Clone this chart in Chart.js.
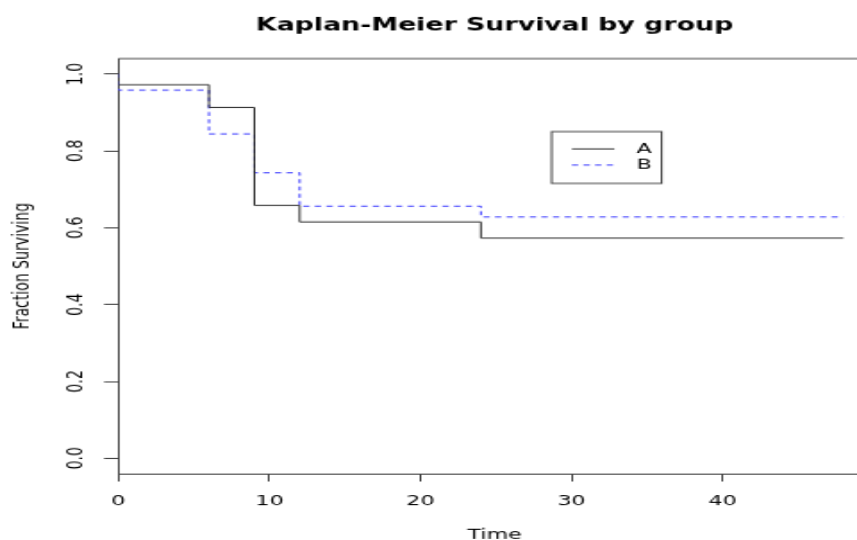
<!DOCTYPE html>
<html>
<head>
<meta charset="utf-8">
<script src="https://cdn.jsdelivr.net/npm/chart.js@4.4.0/dist/chart.umd.min.js"></script>
<style>
  html, body { margin: 0; padding: 0; background: #fff; }
  body { width: 857px; height: 540px; }
  /* drawn at 480x480 like an R png, then stretched to 857x540 */
  #wrap { width: 480px; height: 480px; transform: scale(1.7854, 1.125); transform-origin: 0 0; }
</style>
</head>
<body>
<div id="wrap"><canvas id="chart" width="480" height="480"></canvas></div>
<script>
// Data
const timePoints = [0, 0, 6, 9, 12, 24, 48];
const survivalA = [1.0, 0.972, 0.913, 0.658, 0.615, 0.573, 0.573];
const survivalB = [1.0, 0.958, 0.844, 0.743, 0.656, 0.628, 0.628];
const groupLabels = ["A", "B"];
const xTicks = [0, 10, 20, 30, 40];
const yTicks = [0, 0.2, 0.4, 0.6, 0.8, 1.0];
const yTickLabels = ["0.0", "0.2", "0.4", "0.6", "0.8", "1.0"];
const chartTitle = "Kaplan-Meier Survival by group";
const xTitle = "Time";
const yTitle = "Fraction Surviving";

const ctx = document.getElementById("chart").getContext("2d");

const FONT = '"DejaVu Sans", sans-serif';
const AXIS = "#444";
const toPoints = vals => timePoints.map((t, i) => ({ x: t, y: vals[i] }));

// R style text, box top and legend
const rStyle = {
  id: "rStyle",
  afterDraw(chart) {
    const c = chart.ctx;
    const area = chart.chartArea;
    const xs = chart.scales.x;
    const ys = chart.scales.y;
    const mid = 277;

    c.save();
    // top of the box
    c.strokeStyle = AXIS;
    c.lineWidth = 1;
    c.beginPath();
    c.moveTo(area.left, area.top);
    c.lineTo(area.right, area.top);
    c.stroke();

    c.fillStyle = "#000";
    c.textAlign = "center";

    // title
    c.font = "bold 15px " + FONT;
    c.textBaseline = "alphabetic";
    c.fillText(chartTitle, mid, 26.7);

    // x tick labels and title
    c.font = "12.5px " + FONT;
    xTicks.forEach(v => c.fillText(String(v), xs.getPixelForValue(v), 448.9));
    c.fillText(xTitle, mid, 479.3);

    // y tick labels, rotated like R
    c.textBaseline = "middle";
    yTicks.forEach((v, i) => {
      c.save();
      c.translate(42.5, ys.getPixelForValue(v));
      c.rotate(-Math.PI / 2);
      c.fillText(yTickLabels[i], 0, 0);
      c.restore();
    });
    c.save();
    c.translate(12.9, (area.top + area.bottom) / 2);
    c.rotate(-Math.PI / 2);
    c.fillText(yTitle, 0, 0);
    c.restore();

    // legend
    c.strokeStyle = AXIS;
    c.strokeRect(309, 117, 61.6, 46);
    const rows = [132.4, 146.7];
    chart.data.datasets.forEach((ds, i) => {
      c.save();
      c.strokeStyle = ds.borderColor;
      c.lineWidth = ds.borderWidth;
      c.setLineDash(ds.borderDash || []);
      c.beginPath();
      c.moveTo(320.3, rows[i]);
      c.lineTo(344.1, rows[i]);
      c.stroke();
      c.restore();
      c.textAlign = "left";
      c.fillText(groupLabels[i], 356.5, rows[i]);
    });
    c.restore();
  }
};

new Chart(ctx, {
  type: "line",
  data: {
    datasets: [
      {
        label: groupLabels[0],
        data: toPoints(survivalA),
        borderColor: "#333",
        borderWidth: 1,
        stepped: "before",
        pointRadius: 0,
        fill: false
      },
      {
        label: groupLabels[1],
        data: toPoints(survivalB),
        borderColor: "#3c3cff",
        borderWidth: 1,
        borderDash: [3.5, 3],
        stepped: "before",
        pointRadius: 0,
        fill: false
      }
    ]
  },
  options: {
    responsive: false,
    animation: false,
    devicePixelRatio: 1,
    layout: { padding: { left: 58.3, top: 52.1, right: 0, bottom: 52 } },
    plugins: {
      legend: { display: false },
      title: { display: false },
      tooltip: { enabled: false }
    },
    scales: {
      x: {
        type: "linear",
        min: 0,
        max: 48.9,
        afterBuildTicks: s => { s.ticks = xTicks.map(v => ({ value: v })); },
        afterFit: s => { s.height = 7; },
        ticks: { display: false },
        grid: { drawOnChartArea: false, drawTicks: true, tickLength: 7, color: AXIS },
        border: { display: true, color: AXIS, width: 1 }
      },
      y: {
        type: "linear",
        min: -0.04,
        max: 1.04,
        afterBuildTicks: s => { s.ticks = yTicks.map(v => ({ value: v })); },
        afterFit: s => { s.width = 8; },
        ticks: { display: false },
        grid: { drawOnChartArea: false, drawTicks: true, tickLength: 8, color: AXIS },
        border: { display: true, color: AXIS, width: 1 }
      }
    }
  },
  plugins: [rStyle]
});
</script>
</body>
</html>
